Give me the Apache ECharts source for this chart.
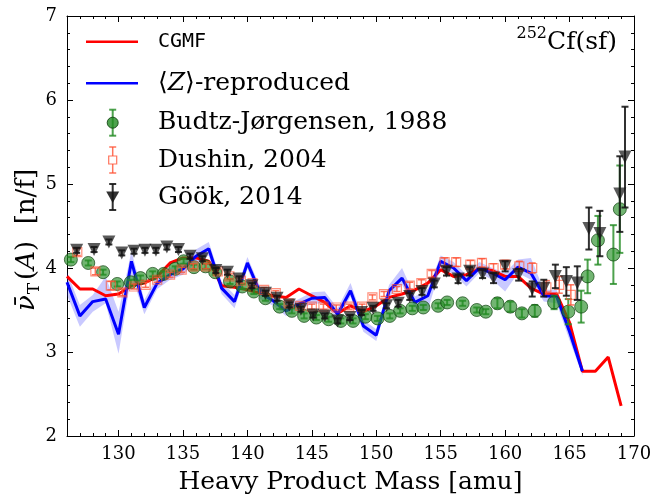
<!DOCTYPE html>
<html><head><meta charset="utf-8">
<script src="https://cdn.jsdelivr.net/npm/echarts@6/dist/echarts.min.js"></script>
<style>html,body{margin:0;padding:0;background:#fff}#c{width:665px;height:500px}</style>
</head><body><div id="c"></div>
<script>
// ---------- DATA ----------
const xTickLabels = [130, 135, 140, 145, 150, 155, 160, 165, 170];
const xMinorTicks = [126,127,128,129,130,131,132,133,134,135,136,137,138,139,140,141,142,143,144,145,146,147,148,149,150,151,152,153,154,155,156,157,158,159,160,161,162,163,164,165,166,167,168,169,170];

const cgmfMass = [126,127,128,129,130,131,132,133,134,135,136,137,138,139,140,141,142,143,144,145,146,147,148,149,150,151,152,153,154,155,156,157,158,159,160,161,162,163,164,165,166,167,168,169];
const cgmfNu = [3.90,3.75,3.75,3.67,3.69,3.79,3.82,3.90,4.06,4.12,4.12,4.08,3.79,3.77,3.74,3.70,3.67,3.65,3.75,3.67,3.59,3.46,3.55,3.48,3.55,3.65,3.69,3.74,3.82,3.98,3.90,3.92,3.99,3.97,3.90,3.90,3.76,3.69,3.69,3.35,2.77,2.77,2.94,2.36];

const zMass = [126,127,128,129,130,131,132,133,134,135,136,137,138,139,140,141,142,143,144,145,146,147,148,149,150,151,152,153,154,155,156,157,158,159,160,161,162,163,164,165,166];
const zNu = [3.83,3.43,3.60,3.63,3.21,4.08,3.53,3.82,3.92,3.99,4.14,4.23,3.76,3.60,4.06,3.70,3.61,3.49,3.57,3.64,3.65,3.45,3.73,3.31,3.20,3.73,3.88,3.59,3.67,4.08,4.00,3.85,4.00,3.94,3.86,4.01,3.94,3.67,3.66,3.24,2.77];
const zLow = [3.68,3.30,3.48,3.58,2.98,3.92,3.45,3.75,3.86,3.92,4.06,4.15,3.69,3.52,3.99,3.63,3.55,3.43,3.51,3.57,3.58,3.39,3.66,3.24,3.13,3.66,3.80,3.52,3.50,4.01,3.93,3.78,3.94,3.86,3.72,3.94,3.86,3.60,3.58,3.14,2.72];
const zHigh = [3.95,3.56,3.68,3.90,3.48,4.20,3.62,3.90,4.00,4.07,4.22,4.31,3.84,3.68,4.13,3.77,3.67,3.56,3.63,3.71,3.72,3.52,3.82,3.38,3.27,3.80,4.00,3.66,3.75,4.15,4.07,3.92,4.07,4.00,3.94,4.10,4.12,3.74,3.74,3.32,2.82];

const budtzMass = [126.3,127.65,128.8,129.9,130.95,131.7,132.65,133.5,134.4,135.05,135.85,136.75,137.5,138.65,139.6,140.5,141.4,142.5,143.45,144.4,145.35,146.3,147.25,148.2,149.15,150.1,151.05,151.85,152.8,153.65,154.8,155.5,156.7,157.8,158.5,159.4,160.4,161.3,162.3,163.8,164.9,165.9,166.4,167.2,168.4,168.9];
const budtzNu = [4.10,4.06,3.95,3.81,3.83,3.88,3.93,3.93,3.99,4.08,4.01,4.02,3.95,3.84,3.78,3.72,3.64,3.54,3.49,3.43,3.41,3.39,3.37,3.37,3.42,3.40,3.43,3.49,3.52,3.53,3.55,3.59,3.58,3.50,3.48,3.58,3.54,3.46,3.49,3.59,3.48,3.54,3.90,4.33,4.16,4.70];
const budtzErr = [0.03,0.03,0.03,0.03,0.03,0.03,0.03,0.03,0.03,0.03,0.03,0.03,0.03,0.03,0.03,0.03,0.03,0.03,0.03,0.03,0.03,0.03,0.03,0.03,0.03,0.03,0.03,0.03,0.03,0.03,0.03,0.03,0.03,0.03,0.03,0.06,0.06,0.05,0.07,0.08,0.15,0.19,0.20,0.29,0.35,0.52];

const dushinMass = [126.8,128.2,129.4,130.3,131.2,132.1,133.0,134.0,134.9,135.8,136.8,137.7,138.6,139.5,140.4,141.3,142.2,143.2,144.1,145.0,145.9,146.9,147.9,148.9,149.7,150.6,151.6,152.6,153.5,154.3,155.3,156.2,157.3,158.2,159.1,160.0,161.1,162.1,163.2,164.2,165.1];
const dushinNu = [4.19,3.96,3.79,3.71,3.78,3.80,3.86,3.92,3.98,4.02,4.02,3.96,3.90,3.85,3.82,3.74,3.70,3.58,3.55,3.54,3.54,3.53,3.54,3.54,3.65,3.69,3.75,3.79,3.82,3.93,4.07,4.07,4.04,4.06,4.00,4.04,4.02,4.00,3.77,3.80,3.68];
const dushinErr = [0.04,0.04,0.05,0.04,0.03,0.03,0.03,0.03,0.03,0.03,0.03,0.03,0.03,0.03,0.03,0.03,0.03,0.03,0.03,0.03,0.03,0.03,0.03,0.03,0.03,0.03,0.03,0.04,0.04,0.04,0.05,0.05,0.05,0.05,0.05,0.05,0.06,0.06,0.08,0.10,0.12];

const gookMass = [126.75,128.1,129.25,130.25,131.2,132.05,132.9,133.75,134.65,135.55,136.5,137.55,138.45,139.35,140.35,141.4,142.3,143.25,144.15,145.1,146.0,147.0,147.95,148.85,149.75,150.8,151.7,152.6,153.55,154.5,155.45,156.35,157.25,158.25,159.1,160.0,161.05,162.1,163.0,163.9,164.75,165.6,166.5,167.35,168.9,169.3];
const gookNu = [4.21,4.22,4.31,4.18,4.20,4.21,4.21,4.25,4.22,4.14,4.11,3.97,3.95,3.87,3.79,3.70,3.64,3.56,3.51,3.44,3.43,3.37,3.41,3.47,3.52,3.55,3.58,3.66,3.72,3.81,3.96,3.87,3.96,3.93,3.88,4.02,3.92,3.75,3.76,3.90,3.84,3.82,4.47,4.41,4.88,5.32];
const gookErr = [0.03,0.03,0.03,0.03,0.03,0.03,0.03,0.03,0.03,0.03,0.03,0.03,0.03,0.03,0.03,0.03,0.03,0.03,0.03,0.03,0.03,0.03,0.03,0.03,0.03,0.03,0.04,0.04,0.04,0.04,0.05,0.05,0.05,0.05,0.06,0.06,0.07,0.09,0.10,0.14,0.17,0.20,0.25,0.27,0.45,0.60];

// ---------- STYLE ----------
const SERIF = '"DejaVu Serif", serif';
const GREEN = 'rgba(34,139,34,0.8)';
const GREEN_EDGE = 'rgba(20,70,20,0.9)';
const ORANGE = 'rgba(255,80,50,0.8)';
const DARK = 'rgba(20,20,20,0.88)';

function zip(a, b) { return a.map((v, i) => [v, b[i]]); }

function errSeries(xs, ys, es, color, width, z) {
  return {
    type: 'custom', silent: true, z: z, clip: false,
    data: xs.map((x, i) => [x, ys[i] - es[i], ys[i] + es[i]]),
    encode: { x: 0, y: [1, 2] },
    renderItem: function (p, api) {
      const a = api.coord([api.value(0), api.value(1)]);
      const b = api.coord([api.value(0), api.value(2)]);
      const c = 3.5;
      const st = { stroke: color, lineWidth: width };
      return { type: 'group', children: [
        { type: 'line', shape: { x1: a[0], y1: a[1], x2: b[0], y2: b[1] }, style: st },
        { type: 'line', shape: { x1: a[0] - c, y1: a[1], x2: a[0] + c, y2: a[1] }, style: st },
        { type: 'line', shape: { x1: b[0] - c, y1: b[1], x2: b[0] + c, y2: b[1] }, style: st }
      ]};
    }
  };
}

const bandSeries = {
  type: 'custom', silent: true, z: 1,
  data: zMass.map((m, i) => [m, zLow[i], zHigh[i]]),
  encode: { x: 0, y: [1, 2] },
  renderItem: function (p, api) {
    if (p.dataIndex !== 0) return null;
    const pts = [];
    for (let i = 0; i < zMass.length; i++) pts.push(api.coord([zMass[i], zHigh[i]]));
    for (let i = zMass.length - 1; i >= 0; i--) pts.push(api.coord([zMass[i], zLow[i]]));
    return { type: 'polygon', shape: { points: pts }, style: { fill: 'rgba(40,40,255,0.25)' } };
  }
};

const axisLineStyle = { color: '#000', width: 1 };
function xAxisDef(pos, major) {
  return {
    type: 'value', min: 126, max: 170, position: pos,
    axisLine: { show: major, onZero: false, lineStyle: axisLineStyle },
    axisTick: { show: true, inside: true, length: major ? 6 : 3, customValues: major ? xTickLabels : xMinorTicks, lineStyle: { color: '#000', width: 1 } },
    axisLabel: (major && pos === 'bottom') ? { show: true, customValues: xTickLabels, fontSize: 18, fontFamily: SERIF, color: '#000', margin: 9 } : { show: false },
    splitLine: { show: false }
  };
}
function yAxisDef(pos) {
  return {
    type: 'value', min: 2, max: 7, interval: 1, position: pos,
    axisLine: { show: true, onZero: false, lineStyle: axisLineStyle },
    axisTick: { show: true, inside: true, length: 6, lineStyle: { color: '#000', width: 1 } },
    minorTick: { show: true, splitNumber: 5, length: 3, lineStyle: { color: '#000', width: 1 } },
    axisLabel: pos === 'left' ? { show: true, fontSize: 18, fontFamily: SERIF, color: '#000', margin: 10 } : { show: false },
    splitLine: { show: false }
  };
}

const xAxes = [xAxisDef('bottom', true), xAxisDef('bottom', false), xAxisDef('top', true), xAxisDef('top', false)];
xAxes[0].name = 'Heavy Product Mass [amu]';
xAxes[0].nameLocation = 'middle';
xAxes[0].nameGap = 34;
xAxes[0].nameTextStyle = { fontSize: 25, fontFamily: SERIF, color: '#000' };

const yAxes = [yAxisDef('left'), yAxisDef('right')];

// legend (graphic)
const LX0 = 86, LX1 = 138, LM = 112.7, LT = 158;
const rows = [41.7, 83.3, 122.7, 160, 197];
function legendErr(y, color, w) {
  const s = { stroke: color, lineWidth: w };
  return [
    { type: 'line', shape: { x1: LM, y1: y - 13, x2: LM, y2: y + 13 }, style: s },
    { type: 'line', shape: { x1: LM - 3.5, y1: y - 13, x2: LM + 3.5, y2: y - 13 }, style: s },
    { type: 'line', shape: { x1: LM - 3.5, y1: y + 13, x2: LM + 3.5, y2: y + 13 }, style: s }
  ];
}
const textStyleBase = { fill: '#000', font: '25px ' + SERIF, verticalAlign: 'middle', align: 'left' };
const graphics = [
  { type: 'line', shape: { x1: LX0, y1: rows[0], x2: LX1, y2: rows[0] }, style: { stroke: '#ff0000', lineWidth: 2.5 } },
  { type: 'text', x: LT, y: rows[0], style: { text: 'CGMF', fill: '#000', font: '20px "DejaVu Sans Mono", monospace', verticalAlign: 'middle' } },
  { type: 'line', shape: { x1: LX0, y1: rows[1], x2: LX1, y2: rows[1] }, style: { stroke: '#0000ff', lineWidth: 2.5 } },
  { type: 'text', x: LT, y: rows[1], style: { text: '{n|⟨}{it|Z}{n|⟩-reproduced}', verticalAlign: 'middle',
      rich: { n: { font: '25px ' + SERIF, fill: '#000' }, it: { font: 'italic 25px ' + SERIF, fill: '#000' } } } },
  ...legendErr(rows[2], GREEN, 2),
  { type: 'circle', shape: { cx: LM, cy: rows[2], r: 5.5 }, style: { fill: GREEN, stroke: GREEN_EDGE, lineWidth: 1 } },
  { type: 'text', x: LT, y: rows[2], style: Object.assign({ text: 'Budtz-Jørgensen, 1988' }, textStyleBase) },
  ...legendErr(rows[3], ORANGE, 1.5),
  { type: 'rect', shape: { x: LM - 4, y: rows[3] - 4, width: 8, height: 8 }, style: { fill: '#fff', stroke: ORANGE, lineWidth: 1.2 } },
  { type: 'text', x: LT, y: rows[3], style: Object.assign({ text: 'Dushin, 2004' }, textStyleBase) },
  ...legendErr(rows[4], DARK, 2),
  { type: 'polygon', shape: { points: [[LM - 6.5, rows[4] - 5.5], [LM + 6.5, rows[4] - 5.5], [LM, rows[4] + 6]] }, style: { fill: DARK } },
  { type: 'text', x: LT, y: rows[4], style: Object.assign({ text: 'Göök, 2014' }, textStyleBase) },
  { type: 'text', x: 617, y: 42, style: { text: '{sup|252}{n|Cf(sf)}', align: 'right', verticalAlign: 'middle',
      rich: { sup: { font: '16px ' + SERIF, fill: '#000', verticalAlign: 'top', lineHeight: 16 },
              n: { font: '25px ' + SERIF, fill: '#000', lineHeight: 32 } } } },
  // y-axis title
  { type: 'text', x: 27, y: 240, rotation: Math.PI / 2,
    style: { text: '{it|ν̄}{sub|T}{n|(}{it|A}{n|)  [n/f]}', align: 'center', verticalAlign: 'middle',
      rich: {
        it: { font: 'italic 26px ' + SERIF, fill: '#000', lineHeight: 32 },
        n: { font: '26px ' + SERIF, fill: '#000', lineHeight: 32 },
        sub: { font: '17px ' + SERIF, fill: '#000', lineHeight: 17, verticalAlign: 'bottom', padding: [0, 3, 0, 1] }
      } } }
];

const option = {
  animation: false,
  backgroundColor: '#fff',
  grid: { left: 67, right: 31, top: 16, bottom: 58, containLabel: false },
  xAxis: xAxes,
  yAxis: yAxes,
  series: [
    bandSeries,
    { type: 'line', name: 'CGMF', data: zip(cgmfMass, cgmfNu), showSymbol: false, symbol: 'none', z: 2,
      lineStyle: { color: '#ff0000', width: 3 }, silent: true },
    { type: 'line', name: 'Z-reproduced', data: zip(zMass, zNu), showSymbol: false, symbol: 'none', z: 3,
      lineStyle: { color: '#0000ff', width: 3 }, silent: true },
    errSeries(budtzMass, budtzNu, budtzErr, GREEN, 2, 4),
    { type: 'scatter', name: 'Budtz-Jørgensen, 1988', data: zip(budtzMass, budtzNu), symbol: 'circle', symbolSize: 13, z: 5,
      itemStyle: { color: GREEN, borderColor: GREEN_EDGE, borderWidth: 1 }, silent: true },
    errSeries(dushinMass, dushinNu, dushinErr, ORANGE, 1.5, 6),
    { type: 'scatter', name: 'Dushin, 2004', data: zip(dushinMass, dushinNu), symbol: 'rect', symbolSize: 9, z: 7,
      itemStyle: { color: 'rgba(255,255,255,0)', borderColor: ORANGE, borderWidth: 1.2 }, silent: true },
    errSeries(gookMass, gookNu, gookErr, DARK, 2, 8),
    { type: 'scatter', name: 'Göök, 2014', data: zip(gookMass, gookNu), symbol: 'triangle', symbolRotate: 180, symbolSize: 13, z: 9,
      itemStyle: { color: DARK }, silent: true }
  ],
  graphic: graphics
};

const chart = echarts.init(document.getElementById('c'), null, { renderer: 'canvas' });
chart.setOption(option);
</script>
</body></html>
